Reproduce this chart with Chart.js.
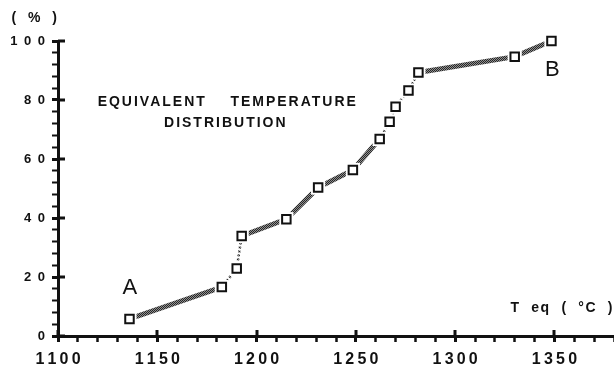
<!DOCTYPE html>
<html>
<head>
<meta charset="utf-8">
<title>Equivalent temperature distribution</title>
<script src="https://cdn.jsdelivr.net/npm/chart.js@4/dist/chart.umd.min.js"></script>
<style>
    body { margin: 0; background: #fff; }
    canvas { display: block; }
</style>
</head>
<body>
<canvas id="teqChart" width="614" height="367"></canvas>
<script>
// equivalent temperature of each sample (°C)
const teqValues = [1136, 1182.5, 1190, 1192.5, 1215, 1231, 1248.5, 1262, 1267, 1270, 1276.5, 1281.5, 1330, 1348.5];
// cumulative share of samples (%)
const cumPercent = [5.8, 16.6, 22.9, 33.9, 39.6, 50.3, 56.3, 66.8, 72.6, 77.7, 83.2, 89.3, 94.7, 100];

// labelled ticks, the rest are minor ones
const xLabels = [1100, 1150, 1200, 1250, 1300, 1350];
const yLabels = [0, 20, 40, 60, 80, 100];

const FONT = '"Liberation Sans", Arial, Helvetica, sans-serif';
const INK = '#111';

// text placed on the plot, positioned in data units
const notes = [
    { text: '( % )', x: 1089, y: 107.8, font: 'bold 14px ' + FONT, spacing: '4px' },
    { text: 'EQUIVALENT    TEMPERATURE', x: 1185.5, y: 79.4, font: 'bold 14px ' + FONT, spacing: '2px' },
    { text: 'DISTRIBUTION', x: 1184.5, y: 72.2, font: 'bold 14px ' + FONT, spacing: '2px' },
    { text: 'A', x: 1136.2, y: 16.3, font: '22px ' + FONT },
    { text: 'B', x: 1349, y: 90.3, font: '22px ' + FONT },
    { text: 'T  eq  (  °C  )', x: 1380, y: 9.5, font: 'bold 14px ' + FONT, spacing: '1.5px', align: 'right' }
];

// stippled grey, like the halftone line in the original figure
function makeStipple() {
    const c = document.createElement('canvas');
    c.width = 2;
    c.height = 2;
    const g = c.getContext('2d');
    g.fillStyle = '#909090';
    g.fillRect(0, 0, 2, 2);
    g.fillStyle = '#262626';
    g.fillRect(0, 0, 1, 1);
    g.fillRect(1, 1, 1, 1);
    return g.createPattern(c, 'repeat');
}

const spaced = (v, gap) => String(v).split('').join(gap);

const points = teqValues.map((t, i) => ({ x: t, y: cumPercent[i] }));

function isThin(ctx) {
    const dx = Math.abs(ctx.p1.x - ctx.p0.x);
    const dy = Math.abs(ctx.p1.y - ctx.p0.y);
    return dy > 2.5 * dx || Math.hypot(dx, dy) < 26;
}

const annotationPlugin = {
    id: 'teqAnnotations',
    afterDraw(chart) {
        const { ctx, chartArea } = chart;
        const x = chart.scales.x;
        const y = chart.scales.y;
        ctx.save();

        // major ticks cross the axis lines
        ctx.strokeStyle = INK;
        ctx.lineWidth = 3;
        ctx.beginPath();
        xLabels.forEach(v => {
            const px = Math.round(x.getPixelForValue(v));
            ctx.moveTo(px, chartArea.bottom);
            ctx.lineTo(px, chartArea.bottom - 6);
        });
        yLabels.forEach(v => {
            const py = Math.round(y.getPixelForValue(v));
            ctx.moveTo(chartArea.left, py);
            ctx.lineTo(chartArea.left + 7, py);
        });
        ctx.stroke();

        ctx.fillStyle = INK;
        ctx.textBaseline = 'middle';
        notes.forEach(n => {
            ctx.font = n.font;
            ctx.letterSpacing = n.spacing || '0px';
            ctx.textAlign = n.align || 'center';
            ctx.fillText(n.text, x.getPixelForValue(n.x), y.getPixelForValue(n.y));
        });
        ctx.restore();
    }
};

new Chart(document.getElementById('teqChart'), {
    type: 'scatter',
    data: {
        datasets: [
            {
                // the markers
                data: points,
                order: 0,
                showLine: false,
                pointStyle: 'rect',
                pointRadius: 6,
                pointBorderWidth: 2,
                pointBorderColor: INK,
                pointBackgroundColor: '#fff',
                clip: false
            },
            {
                // white halo so the line stops short of each marker
                data: points,
                order: 1,
                showLine: false,
                pointStyle: 'rect',
                pointRadius: 10,
                pointBorderWidth: 0,
                pointBackgroundColor: '#fff',
                clip: false
            },
            {
                data: points,
                order: 2,
                showLine: true,
                borderColor: makeStipple(),
                borderWidth: 5,
                pointRadius: 0,
                tension: 0,
                clip: false,
                segment: {
                    borderWidth: ctx => isThin(ctx) ? 2.5 : 5,
                    borderDash: ctx => isThin(ctx) ? [2, 2] : undefined
                }
            }
        ]
    },
    options: {
        responsive: false,
        animation: false,
        layout: {
            autoPadding: false,
            padding: { top: 41, right: 0, left: 0, bottom: 0 }
        },
        plugins: {
            legend: { display: false },
            tooltip: { enabled: false }
        },
        scales: {
            x: {
                type: 'linear',
                min: 1100,
                max: 1380,
                afterFit: s => {
                    s.height = 31;
                    s.paddingRight = 0;
                },
                border: { color: INK, width: 3 },
                grid: {
                    drawOnChartArea: false,
                    drawTicks: true,
                    tickLength: 6,
                    tickColor: INK,
                    tickWidth: c => (c.tick && xLabels.includes(c.tick.value)) ? 3 : 2.5
                },
                ticks: {
                    stepSize: 10,
                    autoSkip: false,
                    maxRotation: 0,
                    padding: 8,
                    color: INK,
                    font: { family: FONT, size: 16, weight: 'bold' },
                    callback: v => xLabels.includes(v) ? spaced(v, '\u2009') : ''
                }
            },
            y: {
                min: 0,
                max: 100,
                afterFit: s => { s.width = 58; },
                border: { color: INK, width: 3 },
                grid: {
                    drawOnChartArea: false,
                    drawTicks: true,
                    tickLength: 6,
                    tickColor: INK,
                    tickWidth: c => (c.tick && yLabels.includes(c.tick.value)) ? 3 : 2
                },
                ticks: {
                    stepSize: 4,
                    autoSkip: false,
                    padding: 7,
                    color: INK,
                    font: { family: FONT, size: 13, weight: 'bold' },
                    callback: v => yLabels.includes(v) ? spaced(v, '\u2002') : ''
                }
            }
        }
    },
    plugins: [annotationPlugin]
});
</script>
</body>
</html>
